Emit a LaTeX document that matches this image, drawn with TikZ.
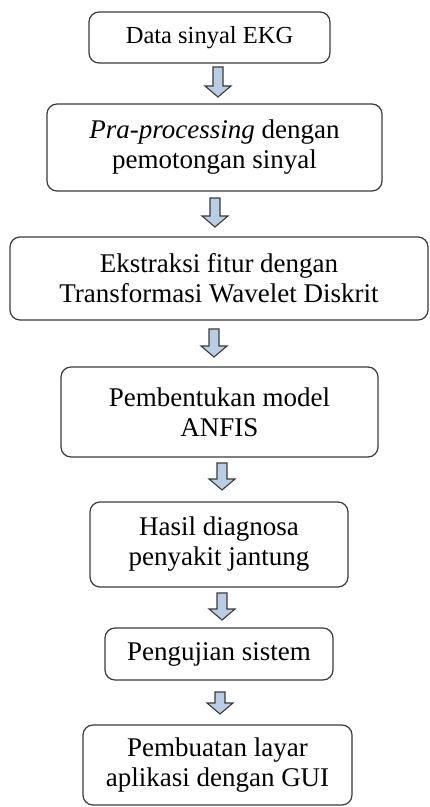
\documentclass[tikz,border=0pt]{standalone}
\usepackage{fontspec}
\setmainfont{Liberation Serif}
\definecolor{arrowfill}{HTML}{B9CDE5}
\definecolor{edgegray}{HTML}{3A3A3A}
\tikzset{
  flowbox/.style={draw=edgegray, line width=1.2pt, rounded corners=10pt, align=center,
    inner sep=0pt, font=\fontsize{27}{30}\selectfont},
  blockarrow/.style={draw=edgegray, fill=arrowfill, line width=1.1pt, line join=miter}
}
% \dnarrow{x}{ytop}{ybottom}
\newcommand\dnarrow[3]{%
  \draw[blockarrow] (#1-5,#2) -- (#1+5,#2) -- (#1+5,#3-11) -- (#1+13,#3-11)
    -- (#1,#3) -- (#1-13,#3-11) -- (#1-5,#3-11) -- cycle;}
\begin{document}
\begin{tikzpicture}[x=1pt,y=-1pt]
\useasboundingbox (0,0) rectangle (430,807);
\node[flowbox, minimum width=241pt, minimum height=51pt, font=\fontsize{24.5}{28}\selectfont]
  (b1) at (209.5,37.5) {Data sinyal EKG};
\node[flowbox, minimum width=335pt, minimum height=87pt]
  (b2) at (214.5,147.5) {\textit{Pra-processing} dengan\\pemotongan sinyal};
\node[flowbox, minimum width=418pt, minimum height=83pt]
  (b3) at (219,278.5) {Ekstraksi fitur dengan\\Transformasi Wavelet Diskrit};
\node[flowbox, minimum width=317pt, minimum height=90pt]
  (b4) at (219.5,412) {Pembentukan model\\ANFIS};
\node[flowbox, minimum width=258pt, minimum height=85pt]
  (b5) at (219,544.5) {Hasil diagnosa\\penyakit jantung};
\node[flowbox, minimum width=228pt, minimum height=52pt]
  (b6) at (219,654) {Pengujian sistem};
\node[flowbox, minimum width=269pt, minimum height=80pt]
  (b7) at (217.5,765) {Pembuatan layar\\aplikasi dengan GUI};
\dnarrow{218}{67}{97}
\dnarrow{215}{198}{227}
\dnarrow{214}{329}{357}
\dnarrow{222}{463}{490}
\dnarrow{222}{593}{620}
\dnarrow{220}{692}{714}
\end{tikzpicture}
\end{document}
